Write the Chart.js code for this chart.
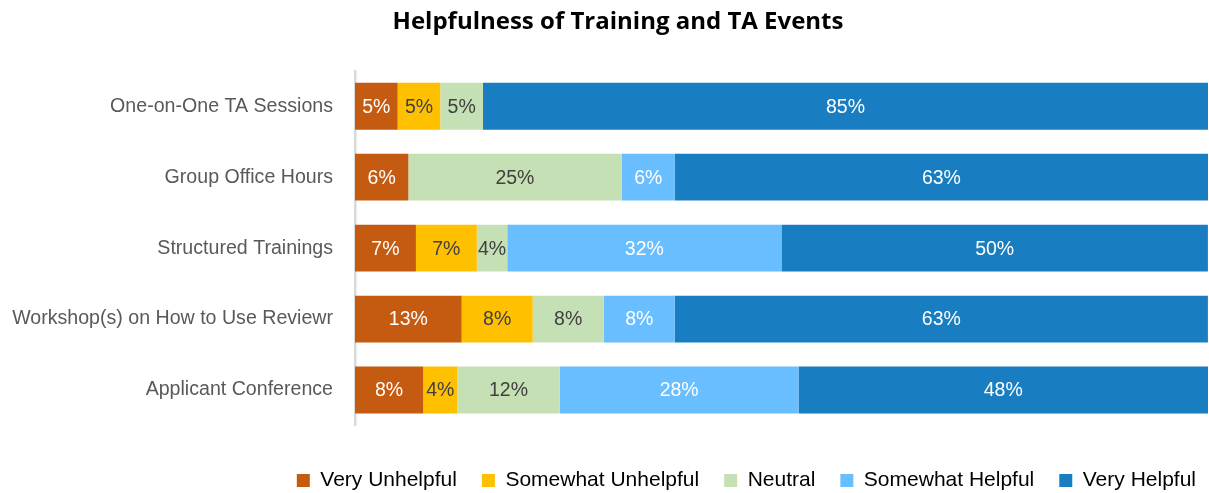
<!DOCTYPE html>
<html><head><meta charset="utf-8">
<script src="https://cdn.jsdelivr.net/npm/chart.js@4.4.1/dist/chart.umd.min.js"></script>
<style>html,body{margin:0;padding:0;background:#fff}#wrap{width:1209px;height:493px}</style>
</head><body><div id="wrap"><canvas id="c" width="1209" height="493"></canvas></div>
<script>
const categories = ["One-on-One TA Sessions","Group Office Hours","Structured Trainings","Workshop(s) on How to Use Reviewr","Applicant Conference"];
const seriesNames = ["Very Unhelpful","Somewhat Unhelpful","Neutral","Somewhat Helpful","Very Helpful"];
const veryUnhelpful     = [5, 6.25, 7.14, 12.5, 8];
const somewhatUnhelpful = [5, 0, 7.14, 8.33, 4];
const neutral           = [5, 25, 3.57, 8.33, 12];
const somewhatHelpful   = [0, 6.25, 32.14, 8.33, 28];
const veryHelpful       = [85, 62.5, 50, 62.5, 48];
const colors = ["#C55A11","#FFC000","#C5E0B4","#69BEFF","#197DC1"];
const labelColors = ["#ffffff","#404040","#404040","#ffffff","#ffffff"];
const FONT = "'Liberation Sans',Arial,sans-serif";

const values = [veryUnhelpful, somewhatUnhelpful, neutral, somewhatHelpful, veryHelpful];
const datasets = seriesNames.map((n,i)=>({label:n,data:values[i],backgroundColor:colors[i],barPercentage:0.66,categoryPercentage:1,borderWidth:0}));

const labelPlugin = {
  id:'barLabels',
  afterLayout(chart){
    if(chart.titleBlock){ chart.titleBlock.left += 20; }
    if(chart.legend){ chart.legend.left += 13; chart.legend.right += 13; }
  },
  afterDatasetsDraw(chart){
    const ctx = chart.ctx;
    ctx.save();
    ctx.font = "19.5px " + FONT;
    ctx.textAlign = 'center';
    ctx.textBaseline = 'middle';
    chart.data.datasets.forEach((ds,di)=>{
      const meta = chart.getDatasetMeta(di);
      meta.data.forEach((bar,i)=>{
        const v = ds.data[i];
        if(!v) return;
        const p = bar.getProps(['x','y','base'],true);
        ctx.fillStyle = labelColors[di];
        ctx.fillText(Math.round(v)+'%', (p.x+p.base)/2, p.y+1);
      });
    });
    ctx.restore();
  }
};

new Chart(document.getElementById('c'),{
  type:'bar',
  data:{labels:categories,datasets},
  plugins:[labelPlugin],
  options:{
    indexAxis:'y',
    responsive:false,
    animation:false,
    layout:{padding:{left:8,right:1,top:0,bottom:-8}},
    scales:{
      x:{stacked:true,min:0,max:100,display:true,grid:{display:false,drawTicks:false},border:{display:false},
         ticks:{color:'rgba(0,0,0,0)',font:{size:12},padding:3},
         afterFit(s){ s.height = 19.5; s.paddingLeft = 0; s.paddingRight = 0; }},
      y:{stacked:true,grid:{display:false,drawTicks:false},border:{display:true,color:'#D9D9D9',width:2.5},
         ticks:{color:'#595959',font:{family:FONT,size:19.6},padding:22},
         afterFit(scale){ scale.width = 347; }}
    },
    plugins:{
      title:{display:true,text:'Helpfulness of Training and TA Events',font:{family:"'Open Sans',sans-serif",size:24,weight:'bold'},color:'#000',padding:{top:8,bottom:34}},
      legend:{position:'bottom',align:'end',labels:{boxWidth:13,boxHeight:13,color:'#000',font:{family:FONT,size:21},padding:25}},
      tooltip:{enabled:false}
    }
  }
});
</script></body></html>
